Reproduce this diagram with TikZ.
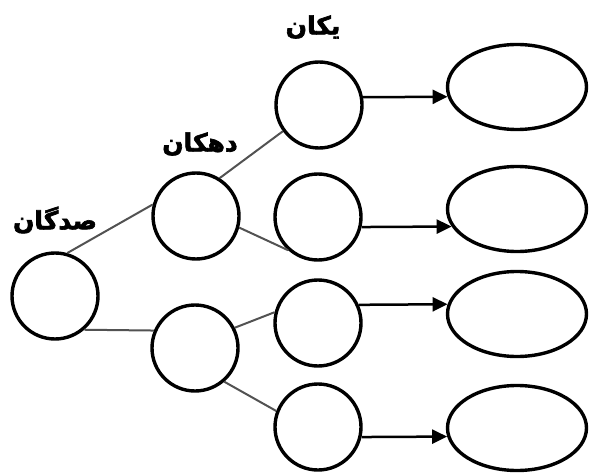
\documentclass[tikz,border=0pt]{standalone}
\usepackage{fontspec}
\usetikzlibrary{shapes.geometric,arrows.meta}
\TeXXeTstate=1
\newfontfamily\arabicfont[Script=Arabic,FakeBold=2.5]{DejaVu Sans Bold}
\tikzset{
  digit/.style={circle,draw,line width=3.4pt,minimum size=86pt,inner sep=0pt},
  result/.style={ellipse,draw,line width=3.4pt,minimum width=139pt,minimum height=85pt,inner sep=0pt},
  link/.style={draw=black!68,line width=2pt},
  arr/.style={line width=2.5pt,-{Triangle[length=15pt,width=14pt]}},
  lbl/.style={font=\arabicfont\fontsize{25}{28}\selectfont,inner sep=0pt}
}
\begin{document}
\begin{tikzpicture}[x=1pt,y=-1pt]
\useasboundingbox (0,0) rectangle (589,476);
\node[digit] (lc) at (55,296) {};
\node[digit] (mt) at (196,216) {};
\node[digit] (mb) at (195,348) {};
\node[digit] (r1) at (319,105) {};
\node[digit] (r2) at (318,217) {};
\node[digit] (r3) at (318,323) {};
\node[digit] (r4) at (318,427) {};
\node[result] (e1) at (517,87) {};
\node[result] (e2) at (517,209) {};
\node[result] (e3) at (517,314) {};
\node[result] (e4) at (517,428) {};
\node[lbl] (l1) at (55,220) {\beginR صدگان\endR};
\node[lbl] (l2) at (200,144) {\beginR دهکان\endR};
\node[lbl] (l3) at (313,27) {\beginR یکان\endR};
\draw[link] (lc.74) -- (mt.165);
\draw[link] (lc.-49) -- (mb.157);
\draw[link] (mt.58) -- (r1.216);
\draw[link] (mt.-15) -- (r2.228);
\draw[link] (mb.27) -- (r3.166);
\draw[link] (mb.-49) -- (r4.159);
\draw[arr] (r1.10.7) -- (e1.188.4);
\draw[arr] (r2.-13.4) -- (e2.195.95);
\draw[arr] (r3.24.75) -- (e3.172.45);
\draw[arr] (r4.-13.4) -- (e4.187.55);
\end{tikzpicture}
\end{document}
